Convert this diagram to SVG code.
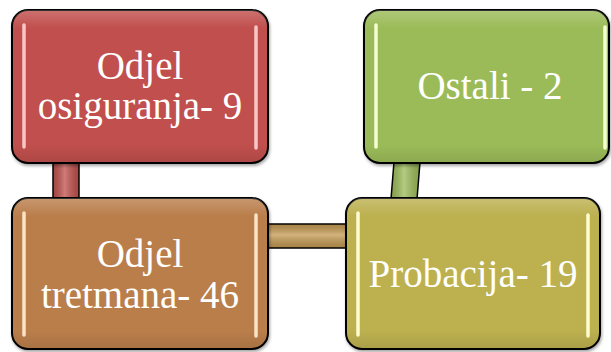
<svg xmlns="http://www.w3.org/2000/svg" width="611" height="352" viewBox="0 0 611 352">
<defs>
<linearGradient id="gv" x1="0" y1="0" x2="0" y2="1">
<stop offset="0" stop-color="#fff" stop-opacity="0.2"/>
<stop offset="0.12" stop-color="#fff" stop-opacity="0"/>
<stop offset="0.88" stop-color="#000" stop-opacity="0"/>
<stop offset="1" stop-color="#000" stop-opacity="0.1"/>
</linearGradient>
<linearGradient id="ch" x1="0" y1="0" x2="1" y2="0">
<stop offset="0" stop-color="#000" stop-opacity="0.15"/>
<stop offset="0.45" stop-color="#fff" stop-opacity="0.25"/>
<stop offset="1" stop-color="#000" stop-opacity="0.15"/>
</linearGradient>
<linearGradient id="cv" x1="0" y1="0" x2="0" y2="1">
<stop offset="0" stop-color="#000" stop-opacity="0.15"/>
<stop offset="0.45" stop-color="#fff" stop-opacity="0.25"/>
<stop offset="1" stop-color="#000" stop-opacity="0.15"/>
</linearGradient>
<filter id="sh" x="-10%" y="-10%" width="120%" height="120%">
<feDropShadow dx="1" dy="2" stdDeviation="1.5" flood-color="#000" flood-opacity="0.35"/>
</filter>
</defs>
<style>
.box{stroke:#000;stroke-width:2}
.hl{stroke-width:3.5;stroke-linecap:round;fill:none}
.con{stroke:#000;stroke-width:1.5}
text{font-family:"Liberation Serif","Times New Roman",serif;font-size:39px;fill:#fff;text-anchor:middle}
</style>
<g id="connectors">
<rect class="con" x="53" y="162" width="26" height="38" fill="#C0504D"/>
<rect x="53" y="162" width="26" height="38" fill="url(#ch)"/>
<rect class="con" x="267" y="224" width="80" height="24" fill="#C49A52"/>
<rect x="267" y="224" width="80" height="24" fill="url(#cv)"/>
<polygon class="con" points="394,162 420,162 417,199 391,199" fill="#9BBB59"/>
<polygon points="394,162 420,162 417,199 391,199" fill="url(#ch)"/>
</g>
<g id="n1">
<rect class="box" x="12" y="10" width="256" height="153" rx="16" fill="#C0504D" filter="url(#sh)"/>
<rect x="12" y="10" width="256" height="153" rx="16" fill="url(#gv)"/>
<line class="hl" x1="24" y1="25" x2="24" y2="147" stroke="#F8C8C6"/>
<line class="hl" x1="256" y1="27" x2="256" y2="148" stroke="#F8C8C6"/>
<text x="140" y="79">Odjel</text>
<text x="140" y="119">osiguranja- 9</text>
</g>
<g id="n2">
<rect class="box" x="12" y="198" width="256" height="151" rx="16" fill="#BA7E4C" filter="url(#sh)"/>
<rect x="12" y="198" width="256" height="151" rx="16" fill="url(#gv)"/>
<line class="hl" x1="24" y1="213" x2="24" y2="335" stroke="#FBE3C6"/>
<line class="hl" x1="256" y1="215" x2="256" y2="336" stroke="#FBE3C6"/>
<text x="140" y="267">Odjel</text>
<text x="140" y="308">tretmana- 46</text>
</g>
<g id="n3">
<rect class="box" x="364" y="10" width="245" height="153" rx="16" fill="#9BBB59" filter="url(#sh)"/>
<rect x="364" y="10" width="245" height="153" rx="16" fill="url(#gv)"/>
<line class="hl" x1="376" y1="25" x2="376" y2="147" stroke="#F4FFD2"/>
<line class="hl" x1="605" y1="27" x2="605" y2="148" stroke="#F4FFD2"/>
<text x="490" y="99">Ostali - 2</text>
</g>
<g id="n4">
<rect class="box" x="346" y="198" width="254" height="151" rx="16" fill="#BCB04F" filter="url(#sh)"/>
<rect x="346" y="198" width="254" height="151" rx="16" fill="url(#gv)"/>
<line class="hl" x1="358" y1="213" x2="358" y2="335" stroke="#FFFCD0"/>
<line class="hl" x1="588" y1="215" x2="588" y2="336" stroke="#FFFCD0"/>
<text x="473" y="287">Probacija- 19</text>
</g>
</svg>
